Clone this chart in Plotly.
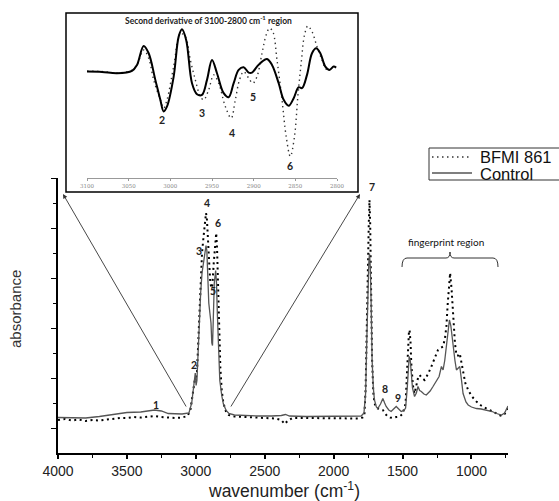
import plotly.graph_objects as go

W, H = 559, 501

# ---- main spectrum (absorbance, arbitrary units) ----
wn_control = [4000, 3900, 3800, 3700, 3600, 3500, 3400, 3300, 3250, 3200, 3100, 3050, 3030, 3020,
              3010, 3004, 2998, 2992, 2985, 2975, 2965, 2955, 2945, 2935, 2926, 2920, 2914, 2906,
              2898, 2890, 2884, 2879, 2874, 2866, 2856, 2850, 2844, 2836, 2826, 2812, 2800, 2780,
              2760, 2720, 2650, 2550, 2450, 2380, 2350, 2320, 2200, 2000, 1850, 1800, 1780, 1768,
              1760, 1752, 1745, 1740, 1734, 1728, 1721, 1712, 1704, 1690, 1680, 1660, 1643, 1630,
              1619, 1600, 1583, 1565, 1546, 1528, 1510, 1490, 1478, 1466, 1458, 1452, 1444, 1436,
              1428, 1413, 1400, 1388, 1376, 1364, 1345, 1328, 1300, 1279, 1255, 1235, 1218, 1206,
              1194, 1182, 1170, 1160, 1150, 1134, 1120, 1109, 1095, 1085, 1072, 1061, 1040, 1024,
              1000, 964, 930, 891, 850, 818, 782, 760, 745, 735]
ab_control = [0.71, 0.70, 0.70, 0.73, 0.77, 0.81, 0.82, 0.86, 0.84, 0.79, 0.78, 0.80, 1.0, 1.25,
              1.55, 1.6, 1.35, 1.45, 1.9, 2.6, 3.2, 3.6, 3.8, 3.95, 4.15, 4.05, 3.5, 3.0,
              2.8, 2.6, 2.2, 2.15, 2.6, 3.4, 3.65, 3.4, 2.8, 2.0, 1.45, 1.15, 0.98, 0.85,
              0.79, 0.76, 0.75, 0.74, 0.74, 0.75, 0.77, 0.74, 0.73, 0.73, 0.73, 0.74, 0.80, 1.2,
              2.2, 3.2, 3.8, 3.99, 3.7, 3.0, 1.86, 1.3, 1.06, 0.92, 0.89, 0.98, 1.09, 1.0,
              0.93, 0.86, 0.83, 0.88, 0.93, 0.88, 0.83, 0.85, 0.9, 1.3, 1.75, 1.93, 1.85, 1.5,
              1.3, 1.13, 1.2, 1.33, 1.25, 1.23, 1.18, 1.16, 1.24, 1.33, 1.45, 1.53, 1.73, 1.66,
              1.85, 2.13, 2.45, 2.66, 2.55, 2.13, 1.85, 1.66, 1.70, 1.73, 1.45, 1.19, 1.02, 0.96,
              0.92, 0.89, 0.88, 0.86, 0.83, 0.79, 0.76, 0.80, 0.88, 0.94]

wn_bfmi = [4000, 3950, 3900, 3850, 3800, 3750, 3700, 3650, 3600, 3550, 3500, 3450, 3400, 3350,
           3300, 3250, 3200, 3150, 3100, 3060, 3040, 3028, 3018, 3008, 3000, 2992, 2984, 2975,
           2965, 2955, 2945, 2935, 2926, 2920, 2912, 2904, 2896, 2888, 2880, 2870, 2860, 2852,
           2846, 2838, 2830, 2822, 2812, 2800, 2780, 2760, 2720, 2650, 2600, 2500, 2420, 2380,
           2355, 2335, 2300, 2200, 2100, 2000, 1900, 1820, 1790, 1777, 1768, 1760, 1752, 1745,
           1740, 1735, 1730, 1721, 1712, 1704, 1690, 1670, 1643, 1625, 1607, 1590, 1570, 1545,
           1522, 1500, 1478, 1468, 1461, 1454, 1449, 1442, 1437, 1425, 1413, 1400, 1388, 1376,
           1360, 1340, 1315, 1291, 1265, 1243, 1225, 1206, 1192, 1182, 1172, 1163, 1155, 1145,
           1134, 1120, 1109, 1095, 1085, 1072, 1061, 1045, 1024, 1000, 964, 930, 891, 850,
           818, 790, 775, 760, 745, 735]
ab_bfmi = [0.66, 0.68, 0.65, 0.67, 0.64, 0.66, 0.65, 0.67, 0.68, 0.70, 0.70, 0.72, 0.71, 0.73,
           0.74, 0.72, 0.71, 0.70, 0.71, 0.74, 0.85, 1.1, 1.35, 1.45, 1.5, 1.6, 2.1, 2.8,
           3.5, 4.0, 4.3, 4.55, 4.8, 4.7, 4.2, 3.7, 3.45, 3.3, 3.35, 3.8, 4.25, 4.4,
           4.1, 3.3, 2.4, 1.7, 1.25, 1.0, 0.82, 0.76, 0.73, 0.72, 0.71, 0.70, 0.69, 0.66,
           0.58, 0.64, 0.70, 0.70, 0.70, 0.70, 0.70, 0.69, 0.71, 0.75, 1.3, 2.7, 3.9, 4.6,
           5.06, 4.6, 3.6, 1.86, 1.2, 1.0, 0.9, 0.88, 0.86, 0.78, 0.73, 0.71, 0.70, 0.72,
           0.73, 0.78, 0.99, 1.6, 2.1, 2.4, 2.46, 2.2, 1.8, 1.35, 1.19, 1.35, 1.5, 1.56,
           1.5, 1.46, 1.58, 1.73, 1.9, 2.06, 2.1, 2.13, 2.3, 2.53, 3.0, 3.4, 3.6, 3.3,
           2.7, 2.2, 1.95, 1.95, 1.99, 1.8, 1.59, 1.4, 1.26, 1.14, 1.03, 0.95, 0.89, 0.84,
           0.79, 0.75, 0.74, 0.78, 0.85, 0.89]

# ---- inset: second derivative, 3100-2800 ----
wn_d2_control = [3100, 3082, 3064, 3046, 3040, 3032, 3026, 3018, 3012, 3008, 3004, 2996, 2990, 2986,
                 2981, 2974, 2968, 2962, 2956, 2950, 2944, 2936, 2930, 2924, 2918, 2912, 2906, 2902,
                 2896, 2890, 2884, 2878, 2870, 2864, 2858, 2852, 2846, 2842, 2836, 2830, 2825, 2820,
                 2814, 2809, 2804, 2801]
d2_control = [0, -0.1, -0.5, 0.2, 2.0, 7.7, 5.5, -2.5, -8.5, -12.0, -10.5, -1.5, 10.5, 12.7,
              9.5, -3.5, -6.8, -7.0, -2.5, 3.5, -0.5, -6.5, -7.7, -3.5, 0.5, 1.3, -0.3, -0.3,
              1.5, 3.0, 3.8, 2.0, -3.5, -8.5, -10.3, -8.0, -4.7, -5.0, -1.0, 5.5, 7.0, 5.5,
              1.5, 0.5, 1.5, 1.2]

wn_d2_bfmi = [3100, 3082, 3064, 3046, 3040, 3032, 3026, 3020, 3012, 3008, 3004, 2996, 2988, 2982,
              2976, 2970, 2964, 2960, 2954, 2948, 2942, 2934, 2927, 2922, 2917, 2912, 2906, 2901,
              2896, 2890, 2885, 2881, 2877, 2872, 2866, 2861, 2856, 2851, 2847, 2843, 2839, 2835,
              2830, 2824, 2818, 2813, 2810]
d2_bfmi = [0.1, 0, -0.4, 0.4, 2.0, 6.5, 4.0, -2.5, -8.5, -11.0, -8.5, 1.5, 11.5, 10.5,
           3.5, -2.5, -7.5, -8.5, -5.5, -1.0, -3.5, -10.5, -14.0, -8.5, -2.5, 0, -2.0, -3.5,
           -1.5, 5.5, 11.0, 13.0, 12.0, 3.5, -8.5, -19.5, -25.5, -19.5, -7.5, 2.5, 11.0, 13.7,
           12.0, 7.5, 3.5, 0.7, 1.0]

x_ticks = [4000, 3500, 3000, 2500, 2000, 1500, 1000]
inset_ticks = [3100, 3050, 3000, 2950, 2900, 2850, 2800]

# peak labels: (text, pixel x, pixel y)
main_labels = [("1", 156, 405), ("2", 194, 365), ("3", 199, 251), ("4", 207, 203),
               ("5", 213, 291), ("6", 218, 223), ("7", 372, 187), ("8", 385, 389), ("9", 398, 398)]
inset_labels = [("2", 162, 120), ("3", 202, 113), ("4", 232, 133), ("5", 253, 97), ("6", 290, 166)]


def px(x):
    return x / W


def py(y):
    return 1 - y / H


def note(text, x, y, size, family="Lato", color="#222", xanchor="center", **kw):
    fig.add_annotation(x=px(x), y=py(y), xref="paper", yref="paper", text=text,
                       xanchor=xanchor, yanchor="middle", showarrow=False,
                       font=dict(family=family, size=size, color=color), **kw)


fig = go.Figure()

fig.add_trace(go.Scatter(x=wn_bfmi, y=ab_bfmi, mode="lines", name="BFMI 861",
                         line=dict(color="black", width=2, dash="2px,3.5px")))
fig.add_trace(go.Scatter(x=wn_control, y=ab_control, mode="lines", name="Control",
                         line=dict(color="#555", width=1.3)))

fig.add_trace(go.Scatter(x=wn_d2_bfmi, y=d2_bfmi, mode="lines", xaxis="x2", yaxis="y2",
                         line=dict(color="#333", width=1.4, dash="1.4px,3.5px", shape="spline"),
                         showlegend=False))
fig.add_trace(go.Scatter(x=wn_d2_control, y=d2_control, mode="lines", xaxis="x2", yaxis="y2",
                         line=dict(color="black", width=2, shape="spline"), showlegend=False))

tickfont = dict(family="Liberation Sans", size=14, color="#222")
fig.update_layout(
    width=W, height=H, margin=dict(l=0, r=0, t=0, b=0, autoexpand=False),
    paper_bgcolor="white", plot_bgcolor="white", showlegend=False,
    xaxis=dict(domain=[px(58), px(508)], range=[4000, 735], tickvals=x_ticks, automargin=False,
               showline=True, linecolor="black", linewidth=1.5, ticks="outside",
               ticklen=4, tickwidth=1.5, tickcolor="black", showgrid=False, zeroline=False,
               minor=dict(dtick=250, tick0=0, ticklen=3, tickwidth=1.3, tickcolor="black", ticks="outside"),
               tickfont=tickfont),
    yaxis=dict(domain=[py(453), py(178)], range=[0, 5.5], tickvals=[0.5, 1.5, 2.5, 3.5, 4.5, 5.5],
               showticklabels=False, showline=True, linecolor="black", linewidth=1.5, automargin=False,
               ticks="outside", ticklen=5, tickwidth=1.3, tickcolor="black",
               minor=dict(tickvals=[1, 2, 3, 4, 5], ticklen=3, tickwidth=1.2, tickcolor="black", ticks="outside"),
               showgrid=False, zeroline=False),
    xaxis2=dict(domain=[px(87), px(337)], range=[3100, 2800], anchor="y2", tickvals=inset_ticks,
                showline=True, linecolor="#999", linewidth=1, ticks="outside", ticklen=2, automargin=False,
                tickcolor="#999", showgrid=False, zeroline=False,
                tickfont=dict(family="DejaVu Serif", size=5.5, color="#888")),
    yaxis2=dict(domain=[py(178), py(20)], range=[-32, 15.5], anchor="x2", visible=False),
)

# axis titles
note("wavenumber (cm<sup>-1</sup>)", 284, 490, 17.5, family="Liberation Sans", color="#222")
note("absorbance", 15, 309, 15, family="Liberation Sans", color="#333", textangle=-90)

# inset frame and title
fig.add_shape(type="rect", xref="paper", yref="paper", x0=px(66), y0=py(192), x1=px(358), y1=py(13),
              line=dict(color="black", width=1.5), layer="above")
note("<b>Second derivative of 3100-2800 cm<sup>-1</sup> region</b>", 208, 20, 8.5)

# zoom arrows from the main peak region to the inset corners
fig.add_annotation(x=px(63), y=py(194), xref="paper", yref="paper", ax=124, ay=214,
                   axref="pixel", ayref="pixel", text="", showarrow=True,
                   arrowhead=2, arrowsize=1, arrowwidth=0.9, arrowcolor="#333")
fig.add_annotation(x=px(360), y=py(194), xref="paper", yref="paper", ax=-130, ay=214,
                   axref="pixel", ayref="pixel", text="", showarrow=True,
                   arrowhead=2, arrowsize=1, arrowwidth=0.9, arrowcolor="#333")

# peak numbers
for txt, lx, ly in main_labels + inset_labels:
    note("<b>" + txt + "</b>", lx, ly, 10.5)

# fingerprint bracket
bx0, bx1, bm, by, bt, bb = 402, 498, 450, 258, 252, 267
path = (f"M {px(bx0)},{py(bb)} Q {px(bx0)},{py(by)} {px(bx0 + 5)},{py(by)} "
        f"L {px(bm - 4)},{py(by)} Q {px(bm)},{py(by)} {px(bm)},{py(bt)} "
        f"Q {px(bm)},{py(by)} {px(bm + 4)},{py(by)} "
        f"L {px(bx1 - 5)},{py(by)} Q {px(bx1)},{py(by)} {px(bx1)},{py(bb)}")
fig.add_shape(type="path", xref="paper", yref="paper", path=path, line=dict(color="#333", width=1))
note("fingerprint region", 446, 242, 10, color="#111")

# legend box drawn by hand (runs off the right edge like the original)
fig.add_shape(type="rect", xref="paper", yref="paper", x0=px(429), y0=py(180), x1=px(575), y1=py(148),
              line=dict(color="#333", width=1))
fig.add_shape(type="line", xref="paper", yref="paper", x0=px(432), x1=px(472), y0=py(157), y1=py(157),
              line=dict(color="#333", width=1.5, dash="1.5px,3.5px"))
fig.add_shape(type="line", xref="paper", yref="paper", x0=px(432), x1=px(472), y0=py(173), y1=py(173),
              line=dict(color="#555", width=1.3))
note("BFMI 861", 478, 157, 16.5, family="Liberation Sans", color="#111", xanchor="left")
note("Control", 478, 174, 16.5, family="Liberation Sans", color="#111", xanchor="left")

# page body has a default 8px margin; drop it so the figure sits at the window corner
fig.write_html("out.html", config={"displayModeBar": False},
               post_script="document.body.style.margin='0px';")
